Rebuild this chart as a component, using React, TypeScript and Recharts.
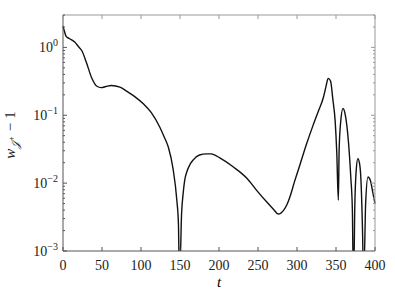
import { LineChart, Line, XAxis, YAxis } from 'recharts'

// t samples and w_J+ - 1 values
const tValues = [
  0, 2, 4, 8, 15, 20, 24, 30, 37, 43, 49, 55, 62, 73, 82, 92, 103, 113, 124, 130, 135, 141, 146,
  148, 149, 150, 152, 154, 156, 159, 163, 167, 175, 184, 190, 201, 218, 236, 248, 261, 270, 276,
  283, 287, 291, 297, 304, 312, 320, 327, 334, 337, 340, 343, 346, 349, 351, 353, 354, 356, 359,
  362, 366, 369, 371, 372, 373, 374, 376, 378, 380, 382, 384, 385, 386, 388, 391, 394, 397, 400,
]
const wValues = [
  2.05, 1.7, 1.45, 1.35, 1.2, 1.02, 0.9, 0.6, 0.35, 0.27, 0.255, 0.265, 0.275, 0.26, 0.225, 0.188,
  0.148, 0.11, 0.067, 0.047, 0.034, 0.0165, 0.0055, 0.0025, 0.0006, 0.0006, 0.0035, 0.007, 0.011,
  0.015, 0.019, 0.022, 0.026, 0.027, 0.027, 0.0235, 0.0174, 0.0117, 0.0079, 0.0053, 0.0041, 0.0035,
  0.004, 0.0048, 0.0063, 0.0107, 0.019, 0.037, 0.068, 0.112, 0.186, 0.26, 0.35, 0.32, 0.17, 0.08,
  0.028, 0.0056, 0.03, 0.08, 0.126, 0.1, 0.04, 0.012, 0.004, 0.0006, 0.0006, 0.004, 0.016, 0.023,
  0.02, 0.011, 0.002, 0.0006, 0.0006, 0.005, 0.0123, 0.011, 0.0075, 0.005,
]
const xTicks = [0, 50, 100, 150, 200, 250, 300, 350, 400]
const decades = [0.001, 0.01, 0.1, 1]
const decadeLabels = ['−3', '−2', '−1', '0']
const minorMultipliers = [2, 3, 4, 5, 6, 7, 8, 9]

const data = tValues.map((t, i) => ({ t, w: wValues[i] }))
const yTicks: number[] = []
decades.forEach((d) => {
  yTicks.push(d)
  minorMultipliers.forEach((m) => {
    if (d * m <= 3) yTicks.push(d * m)
  })
})

const font = '"Liberation Serif", "DejaVu Serif", serif'

function BottomTick(props: any) {
  const { x, y, payload } = props
  return (
    <g>
      <line x1={x} x2={x} y1={y} y2={y - 4} stroke="#555" />
      <text x={x} y={y + 19} textAnchor="middle" fontFamily={font} fontSize={14} fill="#222">
        {payload.value}
      </text>
    </g>
  )
}

function TopTick(props: any) {
  const { x, y } = props
  return <line x1={x} x2={x} y1={y} y2={y + 4} stroke="#999" />
}

function LeftTick(props: any) {
  const { x, y, payload } = props
  const idx = decades.findIndex((d) => Math.abs(d - payload.value) < 1e-9)
  const major = idx >= 0
  return (
    <g>
      <line x1={x} x2={x + (major ? 4 : 2)} y1={y} y2={y} stroke="#555" />
      {major && (
        <text x={x - 5} y={y + 5} textAnchor="end" fontFamily={font} fontSize={14} fill="#222">
          10
          <tspan dy={-6} fontSize={10}>
            {decadeLabels[idx]}
          </tspan>
        </text>
      )}
    </g>
  )
}

function RightTick(props: any) {
  const { x, y, payload } = props
  const major = decades.some((d) => Math.abs(d - payload.value) < 1e-9)
  return <line x1={x} x2={x - (major ? 4 : 2)} y1={y} y2={y} stroke="#999" />
}

export default function App() {
  return (
    <div style={{ position: 'absolute', left: 0, top: 0, background: '#fff' }}>
      <LineChart
        width={395}
        height={296}
        data={data}
        margin={{ top: 0, right: 0, bottom: 0, left: 0 }}
      >
        <XAxis
          dataKey="t"
          type="number"
          domain={[0, 400]}
          ticks={xTicks}
          height={45}
          tickSize={0}
          tickMargin={0}
          tickLine={false}
          axisLine={{ stroke: '#555' }}
          tick={<BottomTick />}
          interval={0}
        />
        <XAxis
          xAxisId="top"
          orientation="top"
          dataKey="t"
          type="number"
          domain={[0, 400]}
          ticks={xTicks}
          height={15}
          tickSize={0}
          tickMargin={0}
          tickLine={false}
          axisLine={{ stroke: '#999' }}
          tick={<TopTick />}
          interval={0}
        />
        <YAxis
          scale="log"
          type="number"
          domain={[0.001, 3]}
          allowDataOverflow
          ticks={yTicks}
          width={63}
          tickSize={0}
          tickMargin={0}
          tickLine={false}
          axisLine={{ stroke: '#555' }}
          tick={<LeftTick />}
          interval={0}
        />
        <YAxis
          yAxisId="right"
          orientation="right"
          scale="log"
          type="number"
          domain={[0.001, 3]}
          allowDataOverflow
          ticks={yTicks}
          width={20}
          tickSize={0}
          tickMargin={0}
          tickLine={false}
          axisLine={{ stroke: '#999' }}
          tick={<RightTick />}
          interval={0}
        />
        <Line
          dataKey="w"
          type="monotone"
          stroke="#111"
          strokeWidth={1.4}
          dot={false}
          isAnimationActive={false}
        />
        <text x={219} y={287} textAnchor="middle" fontFamily={font} fontSize={15} fontStyle="italic">
          t
        </text>
        <text
          transform="translate(15,135) rotate(-90)"
          textAnchor="middle"
          fontFamily={font}
          fontSize={15}
          fill="#222"
        >
          <tspan fontStyle="italic">w</tspan>
          <tspan dy={4} fontSize={11} fontStyle="italic">𝒥</tspan>
          <tspan dy={-5} fontSize={8}>+</tspan>
          <tspan dy={1} dx={5}>−</tspan>
          <tspan dx={4}>1</tspan>
        </text>
      </LineChart>
    </div>
  )
}
